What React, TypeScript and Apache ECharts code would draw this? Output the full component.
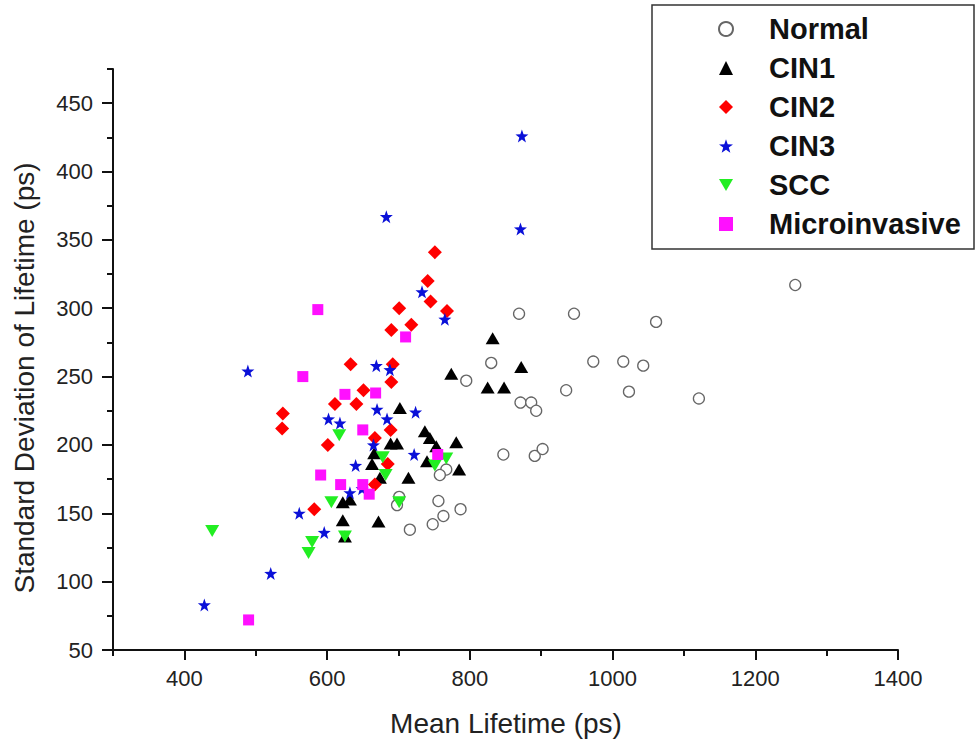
import React, { useEffect, useRef } from "react";
import * as echarts from "echarts";

const seriesNames = ["Normal", "CIN1", "CIN2", "CIN3", "SCC", "Microinvasive"];

const normalData: number[][] = [
  [1256, 317], [869, 296], [946, 296], [1061, 290], [973, 261], [1015, 261], [1043, 258],
  [830, 260], [795, 247], [935, 240], [1023, 239], [1121, 234], [871, 231], [886, 231],
  [893, 225], [847, 193], [891, 192], [902, 197], [767, 182], [758, 178], [701, 162],
  [698, 156], [756, 159], [787, 153], [763, 148], [748, 142], [716, 138],
];

const cin1Data: number[][] = [
  [832, 278], [872, 257], [774, 252], [825, 242], [848, 242], [702, 227], [737, 210],
  [744, 205], [781, 202], [753, 199], [689, 201], [698, 201], [666, 194], [663, 186],
  [785, 182], [740, 188], [674, 176], [714, 176], [622, 158], [632, 160], [622, 145],
  [672, 144], [625, 133],
];

const cin2Data: number[][] = [
  [751, 341], [741, 320], [745, 305], [768, 298], [701, 300], [718, 288], [690, 284],
  [633, 259], [692, 259], [690, 246], [651, 240], [611, 230], [641, 230], [538, 223],
  [537, 212], [689, 211], [667, 205], [601, 200], [685, 186], [667, 171], [582, 153],
];

const cin3Data: number[][] = [
  [873, 426], [871, 358], [683, 367], [733, 312], [765, 292], [489, 254], [669, 258],
  [688, 255], [670, 226], [724, 224], [684, 219], [602, 219], [618, 216], [665, 200],
  [722, 193], [640, 185], [632, 165], [649, 168], [561, 150], [596, 136], [521, 106],
  [428, 83],
];

const sccData: number[][] = [
  [439, 137], [579, 129], [574, 121], [606, 158], [625, 133], [701, 158], [617, 207],
  [678, 191], [682, 178], [751, 185], [767, 190],
];

const microData: number[][] = [
  [587, 299], [710, 279], [566, 250], [625, 237], [668, 238], [650, 211], [755, 193],
  [591, 178], [619, 171], [650, 171], [659, 164], [490, 72],
];

const xMajorTicks = [400, 600, 800, 1000, 1200, 1400];
const xMinorTicks = [300, 500, 700, 900, 1100, 1300];
const yMajorTicks = [50, 100, 150, 200, 250, 300, 350, 400, 450];
const yMinorTicks = [75, 125, 175, 225, 275, 325, 375, 425, 475];

const xTitle = "Mean Lifetime (ps)";
const yTitle = "Standard Deviation of Lifetime (ps)";

const STAR =
  "path://M0,-10 L2.35,-3.24 L9.51,-3.09 L3.8,1.24 L5.88,8.09 L0,4 L-5.88,8.09 L-3.8,1.24 L-9.51,-3.09 L-2.35,-3.24 Z";
const DOWN_TRIANGLE = "path://M0,0 L14,0 L7,12 Z";

const FONT = '"Liberation Sans", Arial, sans-serif';

export default function App() {
  const ref = useRef<HTMLDivElement>(null);
  useEffect(() => {
    if (!ref.current) return;
    const chart = echarts.init(ref.current, null, { renderer: "svg" });
    const axisBase = {
      type: "value" as const,
      min: 300,
      max: 1400,
      splitLine: { show: false },
    };
    const yBase = {
      type: "value" as const,
      min: 50,
      max: 475,
      splitLine: { show: false },
    };
    chart.setOption({
      animation: false,
      backgroundColor: "#ffffff",
      grid: { left: 113, right: 79, top: 69, bottom: 94, containLabel: false },
      xAxis: [
        {
          ...axisBase,
          position: "bottom",
          axisLine: { show: true, onZero: false, lineStyle: { color: "#111", width: 2 } },
          axisTick: {
            show: true,
            customValues: xMajorTicks,
            length: 10,
            lineStyle: { color: "#111", width: 2 },
          },
          axisLabel: {
            customValues: xMajorTicks,
            formatter: (v: number) => String(v),
            margin: 17,
            fontSize: 22,
            fontFamily: FONT,
            color: "#222",
          },
        },
        {
          ...axisBase,
          position: "bottom",
          axisLine: { show: false, onZero: false },
          axisTick: {
            show: true,
            customValues: xMinorTicks,
            length: 6,
            lineStyle: { color: "#111", width: 2 },
          },
          axisLabel: { show: false },
        },
      ],
      yAxis: [
        {
          ...yBase,
          position: "left",
          axisLine: { show: true, onZero: false, lineStyle: { color: "#111", width: 2 } },
          axisTick: {
            show: true,
            customValues: yMajorTicks,
            length: 11,
            lineStyle: { color: "#111", width: 2 },
          },
          axisLabel: {
            customValues: yMajorTicks,
            formatter: (v: number) => String(v),
            margin: 20,
            fontSize: 22,
            fontFamily: FONT,
            color: "#222",
          },
        },
        {
          ...yBase,
          position: "left",
          axisLine: { show: false, onZero: false },
          axisTick: {
            show: true,
            customValues: yMinorTicks,
            length: 6,
            lineStyle: { color: "#111", width: 2 },
          },
          axisLabel: { show: false },
        },
      ],
      legend: {
        orient: "vertical",
        left: 718,
        top: 14,
        padding: 0,
        itemWidth: 14,
        itemHeight: 14,
        itemGap: 9,
        data: [
          { name: seriesNames[0] },
          { name: seriesNames[1] },
          { name: seriesNames[2] },
          { name: seriesNames[3] },
          { name: seriesNames[4], icon: DOWN_TRIANGLE },
          { name: seriesNames[5] },
        ],
        textStyle: {
          fontSize: 29,
          fontWeight: "bold",
          fontFamily: FONT,
          color: "#111",
          lineHeight: 30,
          padding: [0, 0, 0, 31],
        },
      },
      graphic: [
        {
          type: "rect",
          shape: { x: 652, y: 5, width: 322, height: 244 },
          style: { fill: "none", stroke: "#333", lineWidth: 1.5 },
          z: -1,
        },
        {
          type: "text",
          x: 506,
          y: 723,
          style: {
            text: xTitle,
            fontSize: 28,
            fontFamily: FONT,
            fill: "#222",
            align: "center",
            verticalAlign: "middle",
          },
        },
        {
          type: "text",
          x: 24,
          y: 378,
          rotation: Math.PI / 2,
          style: {
            text: yTitle,
            fontSize: 28,
            fontFamily: FONT,
            fill: "#222",
            align: "center",
            verticalAlign: "middle",
          },
        },
      ],
      series: [
        {
          name: seriesNames[0],
          type: "scatter",
          data: normalData,
          symbol: "circle",
          symbolSize: 11,
          itemStyle: { color: "#ffffff", borderColor: "#666", borderWidth: 1.3, opacity: 1 },
        },
        {
          name: seriesNames[1],
          type: "scatter",
          data: cin1Data,
          symbol: "triangle",
          symbolSize: [14, 12],
          itemStyle: { color: "#000000", opacity: 1 },
        },
        {
          name: seriesNames[2],
          type: "scatter",
          data: cin2Data,
          symbol: "diamond",
          symbolSize: 14,
          itemStyle: { color: "#ff0000", opacity: 1 },
        },
        {
          name: seriesNames[3],
          type: "scatter",
          data: cin3Data,
          symbol: STAR,
          symbolSize: 13,
          itemStyle: { color: "#0a10d8", opacity: 1 },
        },
        {
          name: seriesNames[4],
          type: "scatter",
          data: sccData,
          symbol: "triangle",
          symbolRotate: 180,
          symbolSize: [14, 12],
          itemStyle: { color: "#22ee22", opacity: 1 },
        },
        {
          name: seriesNames[5],
          type: "scatter",
          data: microData,
          symbol: "rect",
          symbolSize: 11,
          itemStyle: { color: "#ff10ff", opacity: 1 },
        },
      ],
    });
    return () => chart.dispose();
  }, []);
  return (
    <div
      ref={ref}
      style={{ position: "fixed", left: 0, top: 0, width: 977, height: 744, background: "#fff" }}
    />
  );
}
